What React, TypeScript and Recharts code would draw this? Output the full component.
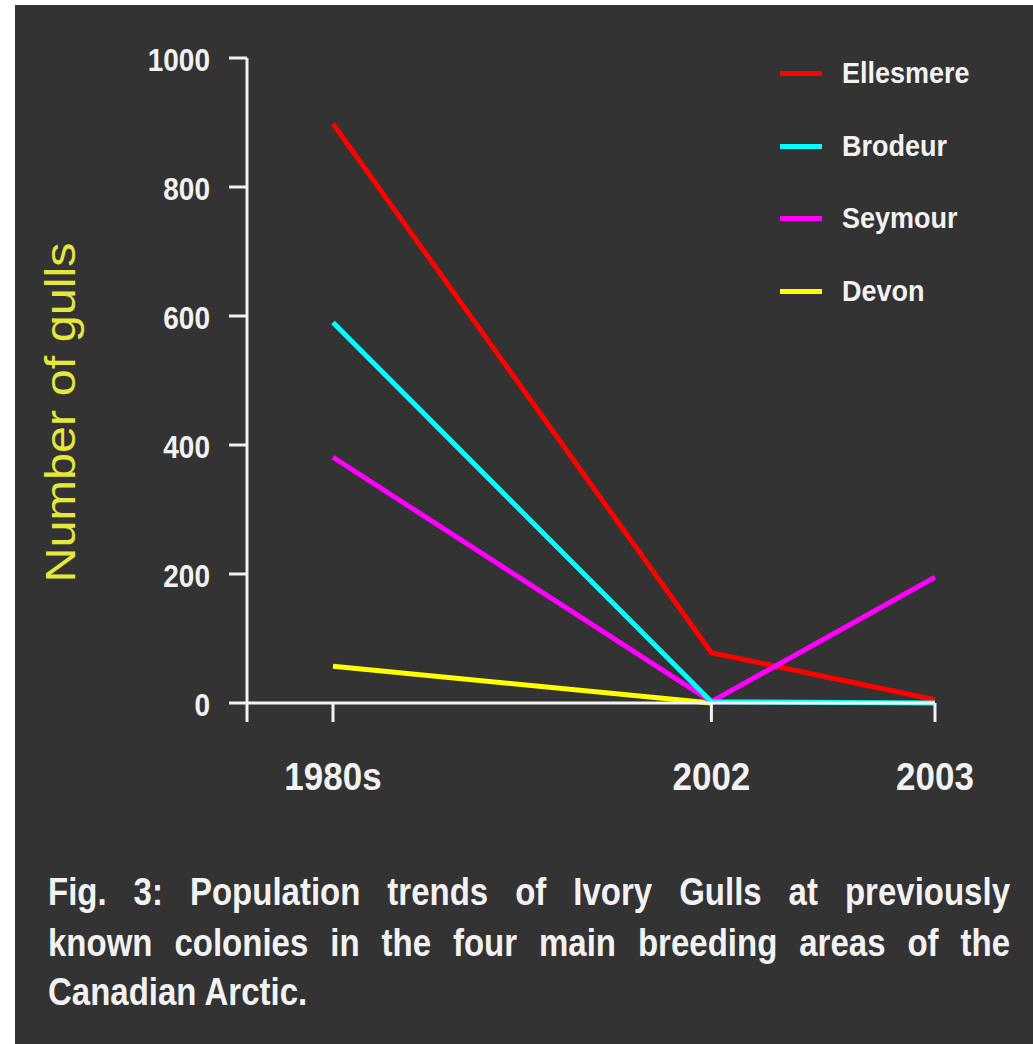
import React from 'react';
import { LineChart, Line, XAxis, YAxis, Legend } from 'recharts';

const periods = ['1980s', '2002', '2003'];
const periodPos = [1, 5.4, 8];
const ellesmere = [898, 78, 5];
const brodeur = [590, 2, 0];
const seymour = [381, 2, 195];
const devon = [57, 0, null];
const yTicks = [0, 200, 400, 600, 800, 1000];

const captionLines = [
  'Fig. 3: Population trends of Ivory Gulls at previously',
  'known colonies in the four main breeding areas of  the',
  'Canadian Arctic.',
];

const series = [
  { key: 'Ellesmere', values: ellesmere, color: '#ff0000' },
  { key: 'Brodeur', values: brodeur, color: '#00ffff' },
  { key: 'Seymour', values: seymour, color: '#ff00ff' },
  { key: 'Devon', values: devon, color: '#ffff00' },
];

const data = periods.map((p, i) => {
  const row: any = { x: periodPos[i], label: p };
  series.forEach((s) => (row[s.key] = s.values[i]));
  return row;
});

const FONT = '"Liberation Sans", Arial, sans-serif';
const AXIS = '#f2f2f2';

const XTick = (props: any) => {
  const { x, y, payload } = props;
  const idx = periodPos.indexOf(payload.value);
  if (idx < 0) return null;
  return (
    <g transform={`translate(${x},${y + 68}) scale(1,1.1)`}>
      <text x={0} y={0} textAnchor='middle' fill={AXIS} fontSize={35} fontWeight='bold' fontFamily={FONT}>
        {periods[idx]}
      </text>
    </g>
  );
};

const YTick = (props: any) => {
  const { x, y, payload } = props;
  return (
    <g transform={`translate(${x},${y + 13}) scale(1,1.15)`}>
      <text x={0} y={0} textAnchor='end' fill={AXIS} fontSize={28} fontWeight='bold' fontFamily={FONT}>
        {payload.value}
      </text>
    </g>
  );
};

const YTitle = (props: any) => {
  const vb = props.viewBox || { x: 132, y: 53, width: 100, height: 645 };
  const cx = vb.x - 72;
  const cy = vb.y + vb.height / 2 + 32;
  return (
    <text
      x={cx}
      y={cy}
      transform={`rotate(-90, ${cx}, ${cy})`}
      textAnchor='middle'
      fill='#e6e63c'
      fontSize={42}
      fontFamily={FONT}
      textLength={340}
      lengthAdjust='spacingAndGlyphs'
    >
      Number of gulls
    </text>
  );
};

const LegendBox = () => (
  <div style={{ fontFamily: FONT }}>
    {series.map((s) => (
      <div key={s.key} style={{ height: 72.7, display: 'flex', alignItems: 'center' }}>
        <div style={{ width: 42, height: 5, background: s.color }} />
        <div
          style={{
            marginLeft: 20,
            color: AXIS,
            fontSize: 27,
            fontWeight: 'bold',
            transform: 'scaleY(1.1)',
          }}
        >
          {s.key}
        </div>
      </div>
    ))}
  </div>
);

const App = () => {
  return (
    <div
      style={{
        position: 'absolute',
        left: 15,
        top: 5,
        width: 1018,
        height: 1039,
        background: '#333333',
        overflow: 'hidden',
      }}
    >
      <LineChart width={1018} height={850} data={data} margin={{ top: 53, right: 98, bottom: 52, left: 132 }}>
        <XAxis
          dataKey='x'
          type='number'
          domain={[0, 8]}
          ticks={[0, ...periodPos]}
          interval={0}
          height={100}
          axisLine={{ stroke: AXIS, strokeWidth: 3 }}
          tickLine={{ stroke: AXIS, strokeWidth: 3 }}
          tickSize={19}
          tickMargin={0}
          tick={<XTick />}
        />
        <YAxis
          type='number'
          domain={[0, 1000]}
          ticks={yTicks}
          interval={0}
          width={100}
          axisLine={{ stroke: AXIS, strokeWidth: 3 }}
          tickLine={{ stroke: AXIS, strokeWidth: 3 }}
          tickSize={18}
          tickMargin={19}
          tick={<YTick />}
          label={<YTitle />}
        />
        <Legend
          layout='horizontal'
          verticalAlign='middle'
          align='center'
          content={<LegendBox />}
          wrapperStyle={{ top: 32, left: 765, width: 240, height: 300 }}
        />
        {[series[3], series[0], series[2], series[1]].map((s) => (
          <Line
            key={s.key}
            type='linear'
            dataKey={s.key}
            stroke={s.color}
            strokeWidth={5}
            dot={false}
            activeDot={false}
            isAnimationActive={false}
          />
        ))}
      </LineChart>
      <div
        style={{
          position: 'absolute',
          left: 33,
          top: 862,
          width: 962,
          fontFamily: FONT,
          fontSize: 33,
          fontWeight: 'bold',
          color: AXIS,
          lineHeight: '43.5px',
          transform: 'scaleY(1.15)',
          transformOrigin: 'top left',
        }}
      >
        {captionLines.map((line, i) => (
          <div
            key={i}
            style={{
              whiteSpace: 'nowrap',
              textAlign: i < captionLines.length - 1 ? 'justify' : 'left',
              textAlignLast: i < captionLines.length - 1 ? 'justify' : 'left',
            }}
          >
            {line}
          </div>
        ))}
      </div>
    </div>
  );
};

export default App;
